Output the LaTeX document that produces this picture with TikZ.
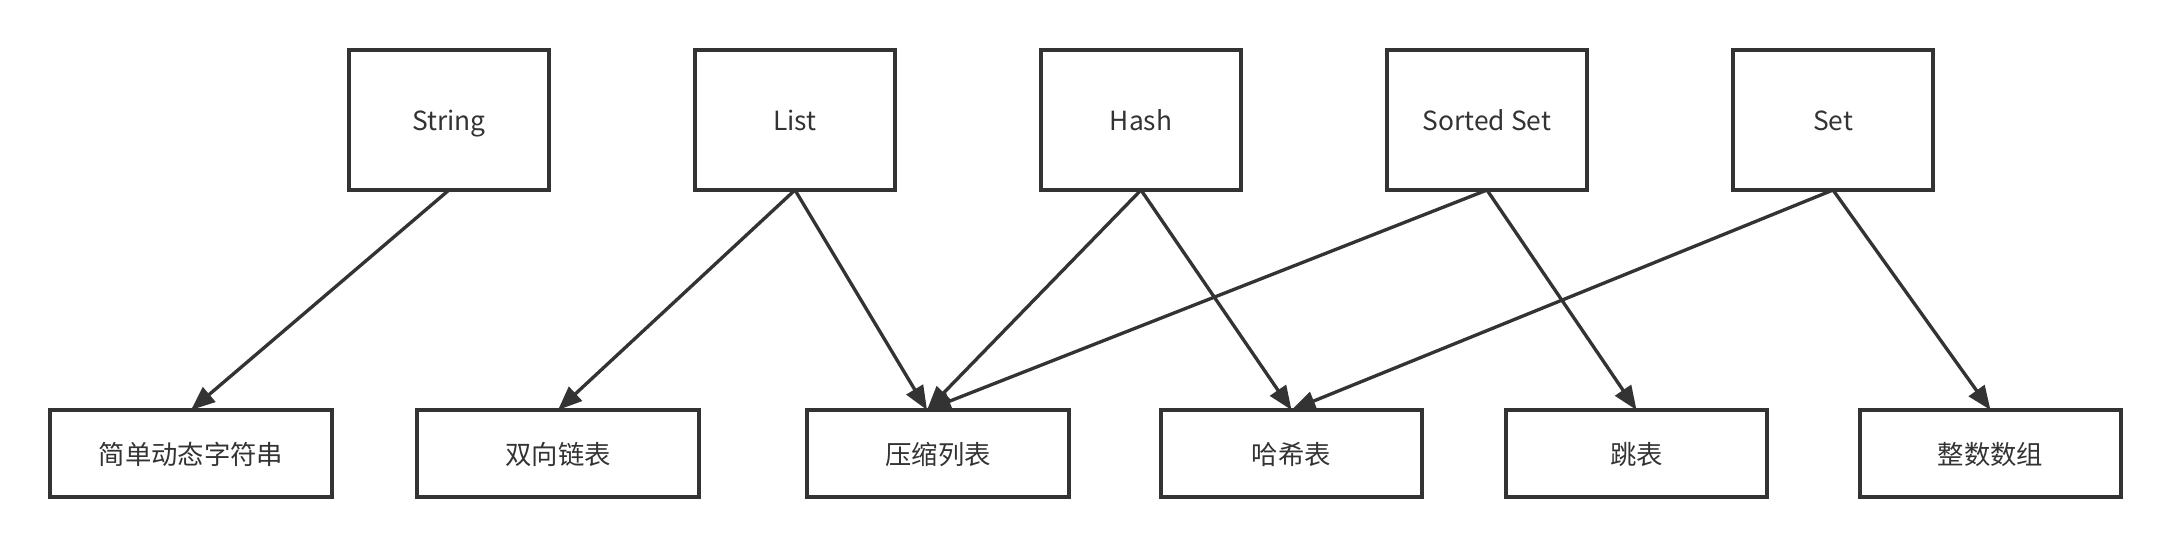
\documentclass[tikz,border=0pt]{standalone}
\usepackage{fontspec}
\setmainfont{Noto Sans CJK SC}
\usetikzlibrary{arrows.meta}
\definecolor{ink}{HTML}{333333}
\begin{document}
\begin{tikzpicture}[node distance = 3.46cm, auto,
                    every node/.style={text=ink, font=\fontsize{7.5pt}{9pt}\selectfont, text height=1.5ex, text depth=0.35ex},
                    topbox/.style={draw=ink, line width=1pt, minimum width=2cm, minimum height=1.4cm, inner sep=0pt, outer sep=0pt},
                    lowbox/.style={draw=ink, line width=1pt, minimum width=2.61cm, minimum height=0.87cm, inner sep=0pt, outer sep=0pt},
                    link/.style={draw=ink, line width=0.95pt, -{Triangle[length=0.24cm, width=0.19cm]}}]
                    \useasboundingbox (0,0) rectangle (21.7,-5.47);
                    \node[topbox] (Str) at (4.49,-1.2) {String};
                    \node[topbox] (Lst)[right of=Str] {List};
                    \node[topbox] (Hsh)[right of=Lst] {Hash};
                    \node[topbox] (ZSet)[right of=Hsh] {Sorted Set};
                    \node[topbox] (Set)[right of=ZSet] {Set};
                    \node[lowbox, minimum width=2.82cm] (sds) at (1.91,-4.535) {简单动态字符串};
                    \node[lowbox, minimum width=2.82cm] (dll)[node distance=3.67cm, right of=sds] {双向链表};
                    \node[lowbox, minimum width=2.62cm] (zip)[node distance=3.8cm, right of=dll] {压缩列表};
                    \node[lowbox] (ht)[node distance=3.535cm, right of=zip] {哈希表};
                    \node[lowbox] (skip)[node distance=3.45cm, right of=ht] {跳表};
                    \node[lowbox] (ints)[node distance=3.54cm, right of=skip] {整数数组};
                    \coordinate (zipin) at ([xshift=-0.11cm]zip.north);
                    \draw[link] (Str.south) to (sds.north);
                    \draw[link] (Lst.south) to (dll.north);
                    \draw[link] (Lst.south) to (zipin);
                    \draw[link] (Hsh.south) to (zipin);
                    \draw[link] (Hsh.south) to (ht.north);
                    \draw[link] (ZSet.south) to (zipin);
                    \draw[link] (ZSet.south) to (skip.north);
                    \draw[link] (Set.south) to (ht.north);
                    \draw[link] (Set.south) to (ints.north);
\end{tikzpicture}
\end{document}
